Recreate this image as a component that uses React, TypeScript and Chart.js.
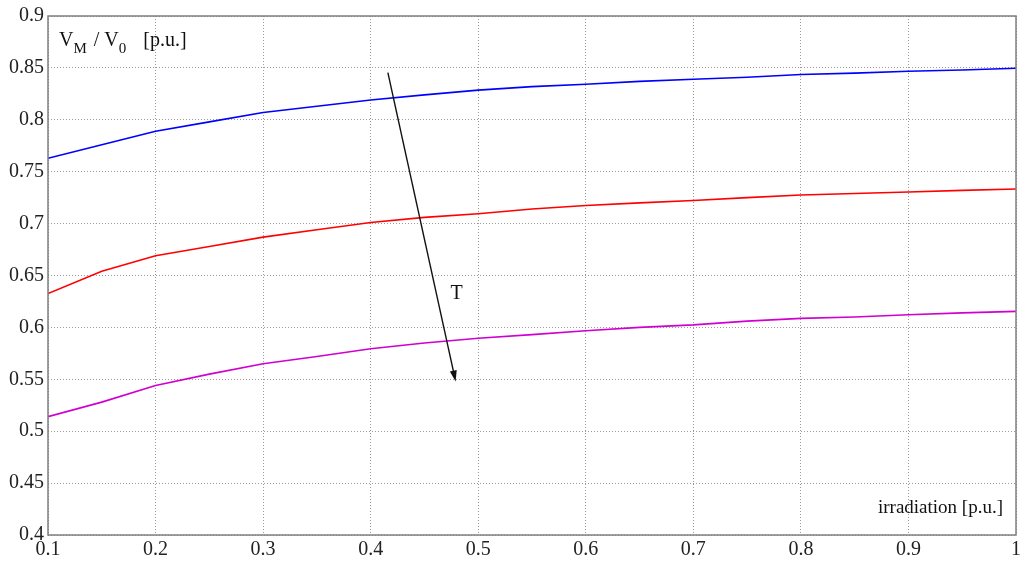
import React, { useEffect, useRef } from "react";
import { Chart, registerables } from "chart.js";

Chart.register(...registerables);

const irradiation = [0.1, 0.15, 0.2, 0.25, 0.3, 0.35, 0.4, 0.45, 0.5, 0.55, 0.6, 0.65, 0.7, 0.75, 0.8, 0.85, 0.9, 0.95, 1.0];
const blueSeries = [0.763, 0.776, 0.789, 0.798, 0.807, 0.813, 0.819, 0.824, 0.8286, 0.832, 0.8343, 0.837, 0.839, 0.841, 0.8436, 0.845, 0.8468, 0.848, 0.8496];
const redSeries = [0.6326, 0.654, 0.669, 0.678, 0.687, 0.694, 0.701, 0.706, 0.7095, 0.714, 0.7174, 0.72, 0.7222, 0.725, 0.7276, 0.729, 0.7305, 0.732, 0.7334];
const magentaSeries = [0.514, 0.528, 0.544, 0.555, 0.565, 0.572, 0.5794, 0.585, 0.5896, 0.593, 0.5967, 0.6, 0.6024, 0.606, 0.6087, 0.61, 0.6122, 0.614, 0.6154];

const xTickLabels = ["0.1", "0.2", "0.3", "0.4", "0.5", "0.6", "0.7", "0.8", "0.9", "1"];
const yTickLabels = ["0.4", "0.45", "0.5", "0.55", "0.6", "0.65", "0.7", "0.75", "0.8", "0.85", "0.9"];

// arrow annotation (data coordinates): start, end; label position
const arrowStart = { x: 0.416, y: 0.8455 };
const arrowEnd = { x: 0.479, y: 0.548 };
const arrowLabel = { x: 0.48, y: 0.632, text: "T" };

const FONT = "'Liberation Serif', 'Times New Roman', serif";

function toPoints(ys: number[]) {
  return ys.map((y, i) => ({ x: irradiation[i], y }));
}

const annotationPlugin = {
  id: "annotations",
  afterDraw(chart: any) {
    const { ctx, chartArea, scales } = chart;
    const xs = scales.x;
    const ysc = scales.y;
    ctx.save();
    // frame
    ctx.strokeStyle = "#7f7f7f";
    ctx.lineWidth = 1.5;
    ctx.strokeRect(chartArea.left, chartArea.top, chartArea.right - chartArea.left, chartArea.bottom - chartArea.top);

    // arrow
    const x1 = xs.getPixelForValue(arrowStart.x);
    const y1 = ysc.getPixelForValue(arrowStart.y);
    const x2 = xs.getPixelForValue(arrowEnd.x);
    const y2 = ysc.getPixelForValue(arrowEnd.y);
    const ang = Math.atan2(y2 - y1, x2 - x1);
    const headLen = 11;
    const headW = 3.5;
    ctx.strokeStyle = "#111";
    ctx.fillStyle = "#111";
    ctx.lineWidth = 1.4;
    ctx.beginPath();
    ctx.moveTo(x1, y1);
    ctx.lineTo(x2 - Math.cos(ang) * headLen * 0.6, y2 - Math.sin(ang) * headLen * 0.6);
    ctx.stroke();
    ctx.beginPath();
    ctx.moveTo(x2, y2);
    const bx = x2 - Math.cos(ang) * headLen;
    const by = y2 - Math.sin(ang) * headLen;
    ctx.lineTo(bx + Math.sin(ang) * headW, by - Math.cos(ang) * headW);
    ctx.lineTo(bx - Math.sin(ang) * headW, by + Math.cos(ang) * headW);
    ctx.closePath();
    ctx.fill();

    // T label
    ctx.fillStyle = "#111";
    ctx.font = `20px ${FONT}`;
    ctx.textAlign = "center";
    ctx.textBaseline = "middle";
    ctx.fillText(arrowLabel.text, xs.getPixelForValue(arrowLabel.x), ysc.getPixelForValue(arrowLabel.y));

    // y axis title: V_M / V_0 [p.u.]
    ctx.textAlign = "left";
    ctx.textBaseline = "alphabetic";
    let tx = chartArea.left + 11;
    const base = chartArea.top + 30;
    const big = `20px ${FONT}`;
    const small = `15px ${FONT}`;
    const parts: [string, boolean][] = [["V", false], ["M", true], [" / V", false], ["0", true], ["   [p.u.]", false]];
    for (const [t, sub] of parts) {
      ctx.font = sub ? small : big;
      ctx.fillText(t, tx, sub ? base + 7 : base);
      tx += ctx.measureText(t).width + (sub ? 2 : 0);
    }

    // x axis title
    ctx.font = `19px ${FONT}`;
    ctx.textAlign = "right";
    ctx.fillText("irradiation [p.u.]", chartArea.right - 13, chartArea.bottom - 22);
    ctx.restore();
  },
};

export default function App() {
  const ref = useRef<HTMLCanvasElement | null>(null);
  useEffect(() => {
    document.body.style.margin = "0";
    const canvas = ref.current!;
    const lineDs = (label: string, data: number[], color: string) => ({
      label,
      data: toPoints(data),
      borderColor: color,
      backgroundColor: color,
      borderWidth: 1.6,
      pointRadius: 0,
      tension: 0,
      fill: false,
    });
    const chart = new Chart(canvas, {
      type: "line",
      data: {
        datasets: [
          lineDs("T1", blueSeries, "#0000ff"),
          lineDs("T2", redSeries, "#ff0000"),
          lineDs("T3", magentaSeries, "#d000d0"),
        ],
      },
      options: {
        animation: false,
        responsive: false,
        maintainAspectRatio: false,
        layout: { padding: { top: 13, right: 8, left: 0, bottom: 0 } },
        plugins: { legend: { display: false }, tooltip: { enabled: false } },
        scales: {
          x: {
            type: "linear",
            min: 0.1,
            max: 1.0,
            afterFit: (s: any) => { s.height = 29; },
            afterBuildTicks: (s: any) => {
              s.ticks = xTickLabels.map((l) => ({ value: parseFloat(l) }));
            },
            ticks: {
              autoSkip: false,
              maxRotation: 0,
              padding: 3,
              color: "#222",
              font: { family: FONT, size: 20 },
              callback: (_v: any, i: number) => xTickLabels[i],
            },
            grid: { color: "#9a9a9a", lineWidth: 1, drawTicks: false },
            border: { display: false, dash: [1, 2] },
          },
          y: {
            type: "linear",
            min: 0.4,
            max: 0.9,
            afterFit: (s: any) => { s.width = 48; },
            afterBuildTicks: (s: any) => {
              s.ticks = yTickLabels.map((l) => ({ value: parseFloat(l) }));
            },
            ticks: {
              autoSkip: false,
              padding: 4,
              color: "#222",
              font: { family: FONT, size: 20 },
              callback: (_v: any, i: number) => yTickLabels[i],
            },
            grid: { color: "#9a9a9a", lineWidth: 1, drawTicks: false },
            border: { display: false, dash: [1, 2] },
          },
        },
      },
      plugins: [annotationPlugin],
    } as any);
    return () => chart.destroy();
  }, []);
  return (
    <div style={{ position: "absolute", left: 0, top: 0, width: 1024, height: 564, background: "#fff" }}>
      <canvas ref={ref} width={1024} height={564} />
    </div>
  );
}
